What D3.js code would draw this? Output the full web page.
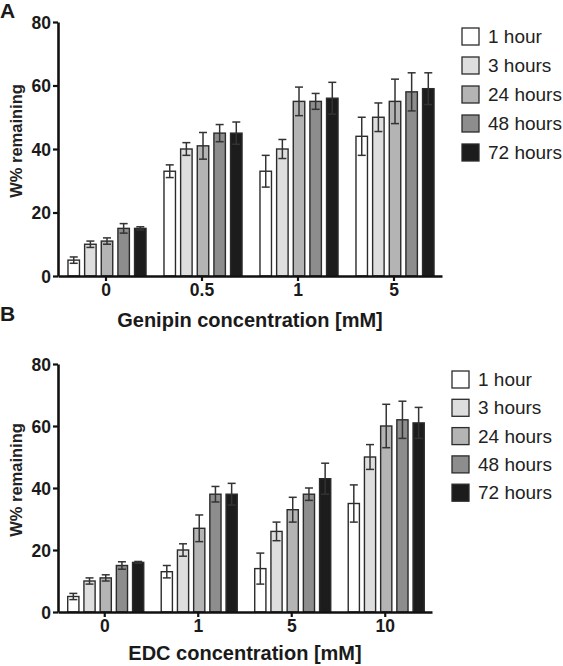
<!DOCTYPE html>
<html>
<head>
<meta charset="utf-8">
<script src="https://cdn.jsdelivr.net/npm/d3@7"></script>
<style>
  html, body { margin: 0; padding: 0; background: #fff; }
  svg { display: block; font-family: "Liberation Sans", Arial, Helvetica, sans-serif; }
</style>
</head>
<body>
<svg id="chart" width="563" height="666"></svg>
<script>
// ---------- data ----------
const seriesNames = ["1 hour", "3 hours", "24 hours", "48 hours", "72 hours"];
const seriesColors = ["#ffffff", "#dedede", "#b4b4b4", "#8d8d8d", "#1c1c1c"];
const yTicks = [0, 20, 40, 60, 80];

const categoriesA = ["0", "0.5", "1", "5"];
const valuesA = [
  [5, 33, 33, 44],
  [10, 40, 40, 50],
  [11, 41, 55, 55],
  [15, 45, 55, 58],
  [15, 45, 56, 59]
];
const errorsA = [
  [1, 2, 5, 6],
  [1, 2, 3, 4.5],
  [1, 4.2, 4.5, 7],
  [1.5, 2.7, 2.5, 6],
  [0.5, 3.5, 5, 5]
];

const categoriesB = ["0", "1", "5", "10"];
const valuesB = [
  [5, 13, 14, 35],
  [10, 20, 26, 50],
  [11, 27, 33, 60],
  [15, 38, 38, 62],
  [16, 38, 43, 61]
];
const errorsB = [
  [1, 2, 5, 6],
  [1, 2, 3, 4],
  [1, 4.3, 4, 7],
  [1.2, 2.5, 2, 6],
  [0.3, 3.5, 5, 5]
];

// ---------- drawing ----------
const svg = d3.select("#chart");

function panel(cfg) {
  const g = svg.append("g");
  const y = d3.scaleLinear().domain([0, 80]).range([cfg.y0, cfg.y80]);
  const x0 = d3.scaleBand().domain(cfg.categories).range([cfg.xl, cfg.xr]).padding(0);
  const bw = x0.bandwidth();
  const x1 = d3.scaleBand().domain(d3.range(seriesNames.length))
    .range([bw * 0.104, bw * 0.917]).paddingInner(0.31).paddingOuter(0);

  // bars
  cfg.categories.forEach((c, ci) => {
    seriesNames.forEach((s, si) => {
      const v = cfg.values[si][ci];
      const e = cfg.errors[si][ci];
      const bx = x0(c) + x1(si);
      const w = x1.bandwidth();
      g.append("rect")
        .attr("x", bx).attr("y", y(v))
        .attr("width", w).attr("height", y(0) - y(v))
        .attr("fill", seriesColors[si])
        .attr("stroke", "#2b2b2b").attr("stroke-width", 1.4);
      const cx = bx + w / 2;
      const eg = g.append("g").attr("stroke", "#333").attr("stroke-width", 1.5);
      eg.append("line").attr("x1", cx).attr("x2", cx).attr("y1", y(v - e)).attr("y2", y(v + e));
      eg.append("line").attr("x1", cx - 4).attr("x2", cx + 4).attr("y1", y(v + e)).attr("y2", y(v + e));
      eg.append("line").attr("x1", cx - 4).attr("x2", cx + 4).attr("y1", y(v - e)).attr("y2", y(v - e));
    });
  });

  // y axis
  const yAxis = d3.axisLeft(y).tickValues(yTicks).tickSize(5).tickPadding(2).tickSizeOuter(0);
  const ya = g.append("g").attr("transform", `translate(${cfg.xl},0)`).call(yAxis);
  ya.select(".domain").attr("stroke", "#111").attr("stroke-width", 2.6);
  ya.selectAll(".tick line").attr("stroke", "#111").attr("stroke-width", 2.2);
  ya.selectAll(".tick text").attr("font-size", 17.5).attr("font-weight", "bold").attr("fill", "#1a1a1a")
    .attr("dy", "0.35em");

  // x axis
  const xAxis = d3.axisBottom(x0).tickSize(5).tickPadding(3).tickSizeOuter(0);
  const xa = g.append("g").attr("transform", `translate(0,${cfg.y0})`).call(xAxis);
  xa.select(".domain").attr("stroke", "#111").attr("stroke-width", 2.6);
  xa.selectAll(".tick line").attr("stroke", "#111").attr("stroke-width", 2.2);
  xa.selectAll(".tick text").attr("font-size", 17.5).attr("font-weight", "bold").attr("fill", "#1a1a1a");

  // axis titles
  g.append("text")
    .attr("transform", `translate(22,${(cfg.y0 + cfg.y80) / 2 - 8}) rotate(-90)`)
    .attr("text-anchor", "middle")
    .attr("font-size", 16.5).attr("font-weight", "bold").attr("fill", "#222")
    .text("W% remaining");
  g.append("text")
    .attr("x", (cfg.xl + cfg.xr) / 2).attr("y", cfg.titleY)
    .attr("text-anchor", "middle")
    .attr("font-size", 20).attr("font-weight", "bold").attr("fill", "#1a1a1a")
    .text(cfg.xTitle);

  // panel letter
  g.append("text").attr("x", 0).attr("y", cfg.letterY)
    .attr("font-size", 21).attr("font-weight", "bold").attr("fill", "#1a1a1a")
    .text(cfg.letter);

  // legend
  const lg = g.append("g").attr("transform", `translate(${cfg.legX},${cfg.legY})`);
  seriesNames.forEach((s, si) => {
    const row = lg.append("g").attr("transform", `translate(0,${si * cfg.legStep})`);
    row.append("rect").attr("x", 0).attr("y", 0).attr("width", 17).attr("height", 17)
      .attr("fill", seriesColors[si]).attr("stroke", "#2b2b2b").attr("stroke-width", 1.3);
    row.append("text").attr("x", 26).attr("y", 15)
      .attr("font-size", 19).attr("fill", "#222").text(s);
  });
}

panel({
  letter: "A", letterY: 18,
  categories: categoriesA, values: valuesA, errors: errorsA,
  xl: 58, xr: 442, y0: 276, y80: 22,
  xTitle: "Genipin concentration [mM]", titleY: 327,
  legX: 462, legY: 28, legStep: 29
});

panel({
  letter: "B", letterY: 321,
  categories: categoriesB, values: valuesB, errors: errorsB,
  xl: 58, xr: 432, y0: 612, y80: 364,
  xTitle: "EDC concentration [mM]", titleY: 660,
  legX: 452, legY: 371, legStep: 28.3
});
</script>
</body>
</html>
